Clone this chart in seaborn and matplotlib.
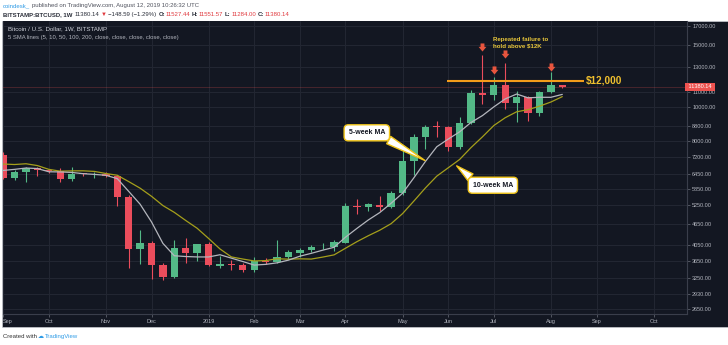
import numpy as np
import pandas as pd
import matplotlib
matplotlib.use("Agg")
import matplotlib.pyplot as plt
import matplotlib.dates as mdates
import matplotlib.transforms as mtransforms
from matplotlib.path import Path
from matplotlib.markers import MarkerStyle
from matplotlib.patches import Rectangle
from matplotlib.ticker import FixedLocator, FixedFormatter, NullLocator
import seaborn as sns

# ---------------- data (weekly BTC/USD, Bitstamp) ----------------
first_week = "2018-09-03"
opens = [7300, 6260, 6520, 6690, 6590, 6560, 6240, 6460, 6420, 6440,
         6370, 5551, 3943, 4108, 3544, 3286, 3960, 3846, 4060, 3527,
         3560, 3544, 3440, 3645, 3620, 3740, 3840, 3920, 4010, 4000,
         4100, 5220, 5190, 5270, 5180, 5700, 7000, 8200, 8780, 8760,
         7660, 8977, 10920, 10800, 11530, 10240, 10640, 9585, 11000, 11527.44]
highs = [7410, 6590, 6760, 6730, 6640, 6680, 6760, 6500, 6540, 6520,
         6400, 5600, 4470, 4150, 3600, 4170, 4240, 4080, 4115, 3760,
         3670, 3590, 3740, 3720, 4190, 3920, 3960, 4040, 4090, 4170,
         5330, 5450, 5330, 5580, 5770, 7540, 8390, 8870, 9100, 8800,
         9350, 11180, 14000, 12180, 13290, 11070, 10750, 11100, 12580, 11551.57]
lows = [6220, 6200, 6126, 6370, 6500, 6100, 6150, 6360, 6270, 6320,
        5230, 3470, 3560, 3240, 3215, 3250, 3600, 3630, 3520, 3480,
        3440, 3380, 3380, 3560, 3600, 3700, 3740, 3850, 3950, 3890,
        4090, 4960, 5060, 5060, 5150, 5620, 6410, 7560, 8220, 7500,
        7560, 8950, 10150, 10450, 9880, 9060, 9120, 9390, 10950, 11284.00]
closes = [6277, 6538, 6690, 6590, 6560, 6240, 6441, 6420, 6440, 6370,
          5551, 3943, 4108, 3544, 3286, 3960, 3846, 4060, 3540, 3560,
          3540, 3440, 3645, 3620, 3740, 3860, 3920, 4000, 4020, 4115,
          5220, 5180, 5280, 5200, 5700, 7013, 8223, 8778, 8760, 7670,
          8977, 10920, 10800, 11530, 10240, 10640, 9585, 11000, 11527, 11380.14]
sma5 = [6589, 6635, 6693, 6671, 6531, 6524, 6504, 6450, 6420, 6382,
        6244, 5745, 5282, 4703, 4086, 3768, 3749, 3739, 3738, 3793,
        3709, 3628, 3545, 3561, 3597, 3661, 3757, 3828, 3908, 3983,
        4255, 4507, 4763, 4999, 5316, 5675, 6283, 6983, 7695, 8089,
        8482, 9021, 9435, 9990, 10526, 10866, 10601, 10637, 10636, 10842]
sma10 = [6871, 6849, 6883, 6802, 6636, 6557, 6570, 6572, 6546, 6457,
         6384, 6125, 5866, 5562, 5234, 5006, 4747, 4511, 4221, 3940,
         3739, 3688, 3642, 3650, 3695, 3685, 3693, 3687, 3735, 3790,
         3958, 4132, 4296, 4454, 4650, 4965, 5395, 5873, 6347, 6702,
         7078, 7652, 8209, 8842, 9307, 9674, 9810, 10036, 10313, 10684]
price_ticks = [17000, 15000, 13000, 11000, 10000, 8800, 8000, 7200, 6450,
               5850, 5250, 4650, 4050, 3650, 3250, 2930, 2650]
month_dates = ["2018-09-03", "2018-10-01", "2018-11-05", "2018-12-03", "2019-01-07",
               "2019-02-04", "2019-03-04", "2019-04-01", "2019-05-06", "2019-06-03",
               "2019-07-01", "2019-08-05", "2019-09-02", "2019-10-07"]
month_labels = ["Sep", "Oct", "Nov", "Dec", "2019", "Feb", "Mar", "Apr", "May",
                "Jun", "Jul", "Aug", "Sep", "Oct"]
arrow_dates = ["2019-06-24", "2019-07-01", "2019-07-08", "2019-08-05"]
arrow_prices = [14818, 12680, 14080, 13000]
resistance_level = 11850
last_price = 11380.14

# ---------------- style ----------------
BG = "#131722"
GRID = "#232733"
AXTXT = "#b2b5be"
UP = "#53b987"
DOWN = "#eb4d5c"
YEL = "#f0c419"

sns.set_theme(style="dark", rc={"axes.facecolor": BG, "figure.facecolor": "white"})
plt.rcParams["font.family"] = ["Liberation Sans", "DejaVu Sans"]

W, H = 728, 345
fig = plt.figure(figsize=(W / 100, H / 100), dpi=100)

# dark chart panel (behind the axes)
fig.patches.append(Rectangle((2 / W, (H - 327) / H), 726 / W, (327 - 21) / H,
                             transform=fig.transFigure, facecolor=BG,
                             edgecolor="#c9ccd2", lw=0.5, zorder=-5))

ax = fig.add_axes([3 / W, (H - 314) / H, 684 / W, (314 - 21) / H])
ax.set_zorder(1)
ax.set_facecolor(BG)

dates = pd.date_range(first_week, periods=len(closes), freq="7D")
xn = mdates.date2num(dates)
o = np.array(opens, float)
h = np.array(highs, float)
l = np.array(lows, float)
c = np.array(closes, float)
up = c >= o
cols = np.where(up, UP, DOWN)

ax.set_yscale("log")
ax.set_ylim(2573, 17532)
d0 = mdates.date2num(pd.Timestamp(first_week))
ax.set_xlim(d0 - 0.1, d0 + 419.5)

# grid / ticks
ax.yaxis.set_major_locator(FixedLocator(price_ticks))
ax.yaxis.set_minor_locator(NullLocator())
ax.yaxis.set_major_formatter(FixedFormatter([f"{p:.2f}" for p in price_ticks]))
mx = mdates.date2num(pd.to_datetime(month_dates))
ax.xaxis.set_major_locator(FixedLocator(mx))
ax.xaxis.set_minor_locator(NullLocator())
ax.xaxis.set_major_formatter(FixedFormatter(month_labels))
ax.grid(True, color=GRID, lw=0.7, zorder=0)
ax.set_axisbelow(True)

ax.yaxis.tick_right()
ax.tick_params(axis="y", which="major", right=True, left=False, length=2.5, width=0.6,
               color="#5d606b", labelsize=4, labelcolor=AXTXT, pad=1.2)
ax.tick_params(axis="x", which="major", bottom=True, length=2, width=0.6,
               color="#5d606b", labelsize=4, labelcolor=AXTXT, pad=1.5)
for side in ["top", "left"]:
    ax.spines[side].set_visible(False)
for side in ["bottom", "right"]:
    ax.spines[side].set_color("#3a3e4b")
    ax.spines[side].set_linewidth(0.8)

# current price line
ax.axhline(last_price, color="#ef5350", lw=0.6, ls=(0, (1.2, 1.2)), alpha=0.55, zorder=1.5)

# candles
body_lo = np.minimum(o, c)
body_h = np.maximum(np.abs(c - o), body_lo * 0.004)
ax.vlines(xn, l, h, colors=cols, lw=0.8, zorder=2)
ax.bar(xn, body_h, bottom=body_lo, width=4.5, color=cols, linewidth=0, zorder=3)

# moving averages
sns.lineplot(x=xn, y=sma10, color="#a59f1b", lw=0.9, ax=ax, zorder=4)
sns.lineplot(x=xn, y=sma5, color="#b4b6bd", lw=0.9, ax=ax, zorder=5)

# resistance line and label
r0 = mdates.date2num(pd.Timestamp("2019-06-02 10:00"))
r1 = mdates.date2num(pd.Timestamp("2019-08-25 07:00"))
ax.hlines(resistance_level, r0, r1, color="#f39c1a", lw=1.5, zorder=6)
ax.text(mdates.date2num(pd.Timestamp("2019-08-26 06:00")), resistance_level, "$12,000",
        color="#f2c12e", fontsize=7.2, fontweight="bold", ha="left", va="center", zorder=7)

# down arrows
arrow_path = Path([(-0.24, 0.5), (0.24, 0.5), (0.24, 0.08), (0.48, 0.08), (0.0, -0.5),
                   (-0.48, 0.08), (-0.24, 0.08), (-0.24, 0.5)],
                  [Path.MOVETO] + [Path.LINETO] * 6 + [Path.CLOSEPOLY])
ax.scatter(mdates.date2num(pd.to_datetime(arrow_dates)), arrow_prices,
           marker=MarkerStyle(arrow_path), s=34, color="#e8553e", linewidths=0, zorder=7)

ax.text(mdates.date2num(pd.Timestamp("2019-06-30 17:00")), 15210,
        "Repeated failure to\nhold above $12K", color="#e9c73a", fontsize=4.4,
        fontweight="bold", ha="left", va="center", linespacing=1.15, zorder=7)


def callout(text, box_date, box_price, tip_date, tip_price, relpos):
    ax.annotate(text, xy=(mdates.date2num(pd.Timestamp(tip_date)), tip_price),
                xytext=(mdates.date2num(pd.Timestamp(box_date)), box_price),
                textcoords="data", ha="center", va="center", fontsize=5,
                fontweight="bold", color="#131722", zorder=8,
                bbox=dict(boxstyle="round,pad=0.65,rounding_size=0.6", fc="white",
                          ec=YEL, lw=1.0),
                arrowprops=dict(arrowstyle="wedge,tail_width=1.2,shrink_factor=0.5",
                                fc="white", ec=YEL, lw=1.0, relpos=relpos,
                                shrinkA=0, shrinkB=0))


callout("5-week MA", "2019-04-14 02:00", 8430, "2019-05-19 19:00", 7030, (0.85, 0.2))
callout("10-week MA", "2019-06-30 10:00", 5980, "2019-06-08 05:00", 6790, (0.12, 0.8))

# last price tag on the price axis
tag_tr = mtransforms.blended_transform_factory(ax.transAxes, ax.transData)
ax.text(1.0, last_price, " 11380.14 ", transform=tag_tr, ha="left", va="center",
        fontsize=4, color="white", clip_on=False, zorder=9,
        bbox=dict(boxstyle="square,pad=0.35", fc="#ef5350", ec="none"))

# first date label sits at the left edge: keep it inside the figure
fig.canvas.draw()
xlabels = ax.get_xticklabels()
if xlabels:
    xlabels[0].set_horizontalalignment("left")

# panel labels
fig.text(7.5 / W, (H - 28.7) / H, "Bitcoin / U.S. Dollar, 1W, BITSTAMP", color="#d1d4dc",
         fontsize=4.4, ha="left", va="center")
fig.text(7.5 / W, (H - 37.7) / H,
         "5 SMA lines (5, 10, 50, 100, 200, close, close, close, close, close)",
         color=AXTXT, fontsize=4.2, ha="left", va="center")

# header lines built piece by piece
renderer = fig.canvas.get_renderer()


def chain(pieces, x0, ypix, size):
    x = x0
    for txt, color, weight, gap in pieces:
        t = fig.text(x / W, (H - ypix) / H, txt, color=color, fontsize=size,
                     fontweight=weight, ha="left", va="center")
        bb = t.get_window_extent(renderer)
        x = bb.x1 + gap


RED = "#e0393e"
DARK = "#2a2e39"
chain([("coindesk_", "#2e9be6", "normal", 1.5),
       ("published on TradingView.com, August 12, 2019 10:26:32 UTC", "#50535e", "normal", 0)],
      3, 6, 4.3)
chain([("BITSTAMP:BTCUSD, 1W", DARK, "bold", 2.5),
       ("11380.14", DARK, "normal", 1.5),
       ("\u25bc", RED, "normal", 1.2),
       ("\u2212148.59 (\u22121.29%)", DARK, "normal", 2),
       ("O:", DARK, "bold", 0.4), ("11527.44", RED, "normal", 2),
       ("H:", DARK, "bold", 0.4), ("11551.57", RED, "normal", 2),
       ("L:", DARK, "bold", 0.4), ("11284.00", RED, "normal", 2),
       ("C:", DARK, "bold", 0.4), ("11380.14", RED, "normal", 0)],
      3, 14.7, 4.3)

# footer
chain([("Created with", "#333333", "normal", 1.0),
       ("\u2601", "#2e9be6", "normal", 0.5),
       ("TradingView", "#2e9be6", "normal", 0)],
      3, 336.7, 4.3)

fig.savefig("out.png", dpi=100)
